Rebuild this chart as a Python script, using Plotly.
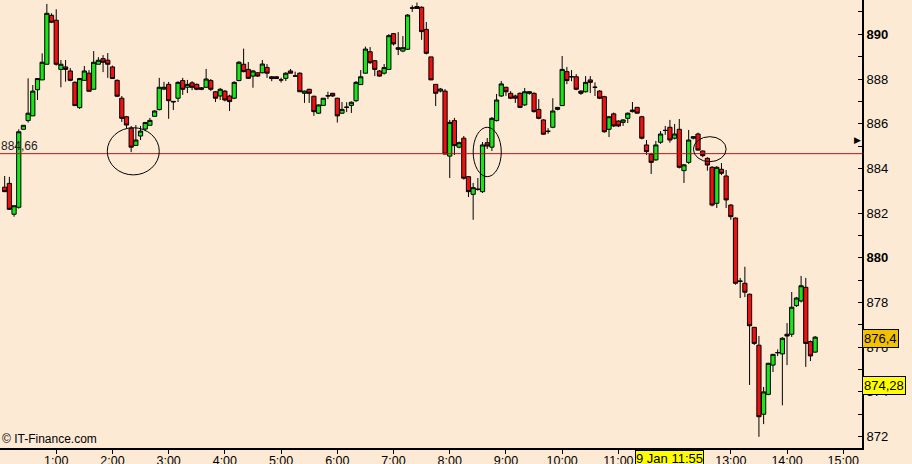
import pandas as pd
import plotly.graph_objects as go

# 5-minute bars, 9 Jan, 0:05 .. 14:30
opens = [
    883.16, 883.33, 881.95, 882.26, 885.75, 886.14, 886.35, 887.52, 887.96, 888.66,
    890.85, 890.63, 888.43, 888.54, 888.36, 887.85, 886.72, 887.94, 888.26, 887.54,
    888.66, 888.91, 888.84, 888.54, 887.94, 887.14, 886.31, 885.80, 885.03, 885.45,
    885.76, 885.93, 886.33, 886.63, 887.55, 887.76, 887.00, 887.14, 887.93, 887.63,
    887.83, 887.76, 887.61, 887.63, 887.93, 887.43, 887.24, 887.46, 887.24, 887.14,
    887.93, 888.66, 888.43, 888.13, 888.28, 888.28, 888.52, 888.10, 888.10, 887.96,
    888.03, 888.36, 888.14, 888.26, 887.36, 887.54, 887.23, 886.47, 886.82, 887.24,
    887.36, 887.14, 886.47, 886.73, 886.82, 887.03, 887.75, 888.26, 889.22, 888.82,
    888.36, 888.26, 888.43, 890.03, 889.40, 889.25, 889.33, 891.17, 891.24, 891.21,
    890.22, 888.99, 887.76, 887.46, 887.46, 884.55, 886.14, 884.95, 885.35, 883.63,
    882.84, 883.06, 882.96, 885.15, 884.95, 886.14, 887.24, 887.63, 887.36, 887.24,
    887.36, 886.84, 887.36, 887.36, 886.64, 886.17, 885.66, 885.84, 886.64, 886.81,
    888.33, 888.10, 888.10, 887.46, 887.43, 887.96, 887.63, 887.46, 887.21, 885.75,
    886.44, 886.12, 886.06, 886.24, 886.54, 886.73, 886.31, 885.05, 884.63, 884.38,
    885.17, 885.70, 885.84, 885.35, 885.75, 883.90, 884.27, 885.35, 885.54, 884.78,
    884.45, 884.05, 882.44, 883.96, 883.66, 882.36, 881.78, 878.96, 878.86, 878.37,
    876.89, 876.09, 873.00, 873.89, 875.20, 875.75, 875.70, 876.58, 876.58, 877.86,
    878.07, 878.68, 876.25, 875.78,
]
highs = [
    883.66, 883.62, 882.33, 885.75, 885.93, 888.03, 887.73, 888.02, 889.15, 891.36,
    890.94, 891.12, 888.85, 888.85, 888.49, 887.90, 888.05, 888.58, 888.40, 889.25,
    888.98, 889.07, 889.16, 888.60, 887.98, 887.24, 886.35, 885.90, 885.94, 885.90,
    886.08, 886.26, 886.60, 888.05, 887.87, 887.87, 887.00, 887.90, 888.05, 887.96,
    887.90, 887.80, 887.63, 888.45, 888.00, 887.46, 887.60, 887.50, 887.30, 887.90,
    888.80, 889.36, 888.76, 888.40, 888.30, 888.85, 888.67, 888.12, 888.12, 888.06,
    888.30, 888.45, 888.33, 888.30, 887.48, 887.56, 887.25, 886.86, 887.15, 887.43,
    887.38, 887.16, 886.97, 886.96, 887.00, 887.91, 888.40, 889.45, 889.43, 888.85,
    888.40, 888.67, 890.01, 890.06, 890.10, 889.92, 890.90, 891.30, 891.42, 891.25,
    890.55, 888.99, 887.76, 887.60, 887.55, 886.17, 886.26, 885.20, 885.45, 883.66,
    883.35, 883.57, 885.18, 885.36, 886.30, 887.33, 887.91, 887.65, 887.46, 887.30,
    887.40, 887.60, 887.45, 887.40, 887.10, 886.20, 885.80, 887.14, 886.75, 889.03,
    888.54, 888.40, 888.22, 887.50, 888.13, 888.13, 887.85, 887.50, 887.25, 886.35,
    886.50, 886.15, 886.20, 886.50, 886.97, 886.75, 886.35, 885.27, 884.70, 885.23,
    885.67, 885.90, 886.17, 885.99, 886.21, 884.20, 885.72, 885.45, 885.60, 884.80,
    884.50, 884.10, 884.10, 884.24, 883.93, 882.40, 881.80, 879.10, 879.60, 878.40,
    876.90, 876.50, 874.22, 875.30, 875.70, 875.90, 876.45, 877.08, 878.47, 878.25,
    879.19, 879.10, 876.30, 876.50,
]
lows = [
    882.94, 882.14, 881.84, 882.20, 885.75, 886.05, 886.35, 887.06, 887.96, 888.66,
    890.50, 888.60, 887.63, 887.88, 887.90, 886.80, 886.66, 887.94, 887.45, 887.54,
    888.66, 888.31, 888.05, 888.00, 887.20, 886.08, 885.80, 884.73, 885.00, 885.27,
    885.67, 885.93, 886.33, 886.60, 887.50, 886.22, 886.61, 886.97, 887.29, 887.37,
    887.50, 887.50, 887.50, 887.60, 887.46, 886.97, 887.06, 887.00, 886.57, 887.10,
    887.90, 888.30, 888.00, 887.61, 888.10, 888.25, 888.05, 887.90, 888.00, 887.84,
    887.91, 888.25, 888.10, 887.42, 886.93, 886.93, 886.35, 886.44, 886.79, 887.10,
    887.20, 886.05, 886.44, 886.52, 886.48, 886.97, 887.75, 888.25, 888.67, 888.13,
    888.10, 888.20, 888.40, 889.50, 889.07, 889.20, 889.30, 891.00, 891.15, 889.75,
    889.10, 887.96, 886.79, 887.40, 884.64, 883.57, 884.60, 884.90, 883.50, 882.72,
    881.70, 883.00, 882.90, 884.87, 884.78, 886.10, 887.20, 887.25, 887.10, 886.93,
    886.70, 886.80, 887.30, 886.50, 886.20, 885.50, 885.55, 885.80, 886.60, 886.80,
    887.77, 887.90, 887.50, 887.29, 887.40, 887.37, 887.24, 887.10, 885.60, 885.40,
    885.85, 885.85, 885.90, 886.03, 886.50, 886.45, 885.30, 884.60, 883.75, 884.35,
    885.10, 885.50, 885.15, 885.30, 884.00, 883.35, 884.20, 885.30, 884.80, 884.50,
    883.90, 882.30, 882.23, 883.70, 882.23, 881.70, 878.80, 878.20, 878.24, 874.31,
    876.10, 871.99, 872.56, 873.85, 874.89, 875.60, 873.40, 875.20, 876.46, 877.80,
    878.00, 875.12, 875.38, 875.75,
]
closes = [
    882.96, 882.17, 882.33, 885.64, 885.93, 886.47, 887.46, 888.02, 888.75, 890.94,
    890.54, 888.66, 888.66, 888.43, 887.94, 886.81, 888.02, 888.36, 887.45, 888.75,
    888.84, 888.75, 888.66, 888.02, 887.23, 886.24, 885.94, 884.95, 885.27, 885.67,
    886.05, 886.15, 886.57, 887.63, 887.63, 887.03, 886.98, 887.85, 887.54, 887.76,
    887.63, 887.54, 887.54, 888.00, 887.54, 887.14, 887.54, 887.06, 886.99, 887.85,
    888.75, 888.33, 888.03, 888.36, 888.13, 888.67, 888.26, 888.02, 888.02, 887.96,
    888.26, 888.26, 888.13, 887.43, 887.46, 887.36, 886.54, 886.84, 887.14, 887.25,
    887.24, 886.35, 886.64, 886.74, 886.96, 887.85, 888.10, 889.34, 888.73, 888.43,
    888.13, 888.51, 889.94, 889.57, 889.33, 889.40, 890.86, 891.18, 891.16, 890.12,
    889.15, 887.96, 887.36, 887.55, 884.64, 886.06, 885.02, 885.15, 883.56, 882.96,
    883.14, 883.07, 885.05, 885.00, 886.24, 887.06, 887.78, 887.43, 887.14, 887.14,
    886.73, 887.43, 887.43, 886.54, 886.24, 885.53, 885.66, 886.57, 886.73, 888.43,
    887.93, 888.10, 887.54, 887.36, 887.85, 887.85, 887.63, 887.14, 885.64, 886.31,
    885.90, 885.90, 886.17, 886.47, 886.61, 886.47, 885.35, 884.75, 884.27, 885.05,
    885.54, 885.70, 885.27, 885.54, 884.05, 884.16, 885.27, 885.42, 884.82, 884.57,
    884.15, 882.36, 884.05, 883.78, 882.59, 881.84, 878.86, 878.95, 878.46, 876.96,
    876.17, 872.89, 874.00, 875.28, 875.68, 875.76, 876.40, 876.50, 877.79, 878.20,
    878.75, 876.17, 875.61, 876.45,
]

times = pd.date_range("2009-01-09 00:05", periods=len(opens), freq="5min")

hour_labels = ["1:00", "2:00", "3:00", "4:00", "5:00", "6:00", "7:00", "8:00",
               "9:00", "10:00", "11:00", "12:00", "13:00", "14:00", "15:00"]
price_labels = [872, 874, 876, 878, 880, 882, 884, 886, 888, 890]

level_price = 884.66
level_text = "884,66"
last_price = 876.4
last_text = "876,4"
cursor_price = 874.28
cursor_text = "874,28"
cursor_time = "2009-01-09 11:55"
cursor_time_text = "9 Jan 11:55"
arrow_price = 885.25

day = "2009-01-09 "
bg = "#FDEAD5"
font = "Liberation Sans"

fig = go.Figure(go.Candlestick(
    x=times, open=opens, high=highs, low=lows, close=closes,
    increasing=dict(fillcolor="#19E619", line=dict(color="black", width=1)),
    decreasing=dict(fillcolor="#F01010", line=dict(color="black", width=1)),
    whiskerwidth=0,
    hoverinfo="x+y",
))

# y ticks on every point, label only the even ones, bold every 10
yvals = list(range(price_labels[0], price_labels[-1] + 2))
ytext = []
for v in yvals:
    if v in price_labels:
        ytext.append(f"<b>{v}</b>" if v % 10 == 0 else str(v))
    else:
        ytext.append("")

xvals = [pd.Timestamp(day + h) for h in hour_labels]

fig.update_layout(
    width=912, height=464,
    margin=dict(l=0, r=50, t=0, b=16),
    paper_bgcolor=bg, plot_bgcolor=bg,
    showlegend=False,
    boxgap=0.1, boxgroupgap=0,
    font=dict(family=font, size=13, color="black"),
)
fig.update_xaxes(
    type="date",
    range=[day + "00:00", day + "15:20"],
    rangeslider_visible=False,
    showgrid=False, zeroline=False,
    showline=True, linecolor="black", linewidth=2,
    ticks="outside", ticklen=4, tickcolor="black",
    tickvals=xvals, ticktext=hour_labels,
    tickfont=dict(size=12.5),
    ticklabelstandoff=-4,
    automargin=False,
)
fig.update_yaxes(
    side="right",
    range=[871.49, 891.535],
    showgrid=False, zeroline=False,
    showline=True, linecolor="black", linewidth=2,
    ticks="inside", ticklen=4, tickcolor="black",
    tickvals=yvals, ticktext=ytext,
    tickfont=dict(size=13),
    automargin=False,
)

# horizontal level
fig.add_shape(type="line", xref="paper", x0=0, x1=1, yref="y",
              y0=level_price, y1=level_price, line=dict(color="#C81010", width=1))

# hand drawn circles
for x0, x1, y0, y1 in [("01:54:30", "02:50", 883.71, 885.82),
                       ("08:25", "08:55", 883.63, 885.84),
                       ("12:20", "12:55", 884.30, 885.42)]:
    fig.add_shape(type="circle", xref="x", yref="y",
                  x0=day + x0, x1=day + x1, y0=y0, y1=y1,
                  line=dict(color="black", width=1))

fig.add_annotation(text=level_text, xref="paper", x=0, xanchor="left",
                   yref="y", y=level_price, yanchor="bottom",
                   showarrow=False, font=dict(size=12, color="#222222"), borderpad=0)
fig.add_annotation(text="© IT-Finance.com", xref="paper", x=0, xanchor="left",
                   yref="paper", y=0, yanchor="bottom",
                   showarrow=False, font=dict(size=12), borderpad=1)
fig.add_annotation(text=cursor_time_text, xref="x", x=cursor_time, xanchor="center",
                   yref="paper", y=0, yanchor="top", yshift=-2,
                   showarrow=False, bgcolor="#FFFF00", bordercolor="black",
                   borderwidth=1, borderpad=0, font=dict(size=13))
fig.add_annotation(text=last_text, xref="paper", x=1, xanchor="left",
                   yref="y", y=last_price, yanchor="middle",
                   showarrow=False, bgcolor="#F2C200", bordercolor="black",
                   borderwidth=1, borderpad=1, font=dict(size=13))
fig.add_annotation(text=cursor_text, xref="paper", x=1, xanchor="left",
                   yref="y", y=cursor_price, yanchor="middle",
                   showarrow=False, bgcolor="#FFFF00", bordercolor="black",
                   borderwidth=1, borderpad=1, font=dict(size=13))
fig.add_annotation(text="▶", xref="paper", x=1, xanchor="right", xshift=1,
                   yref="y", y=arrow_price, yanchor="middle",
                   showarrow=False, font=dict(size=9, family="DejaVu Sans"))

# the page body has a default 8px margin; drop it so the figure fills the window
fig.write_html("out.html", config={"displayModeBar": False},
               post_script="document.body.style.margin='0';")
